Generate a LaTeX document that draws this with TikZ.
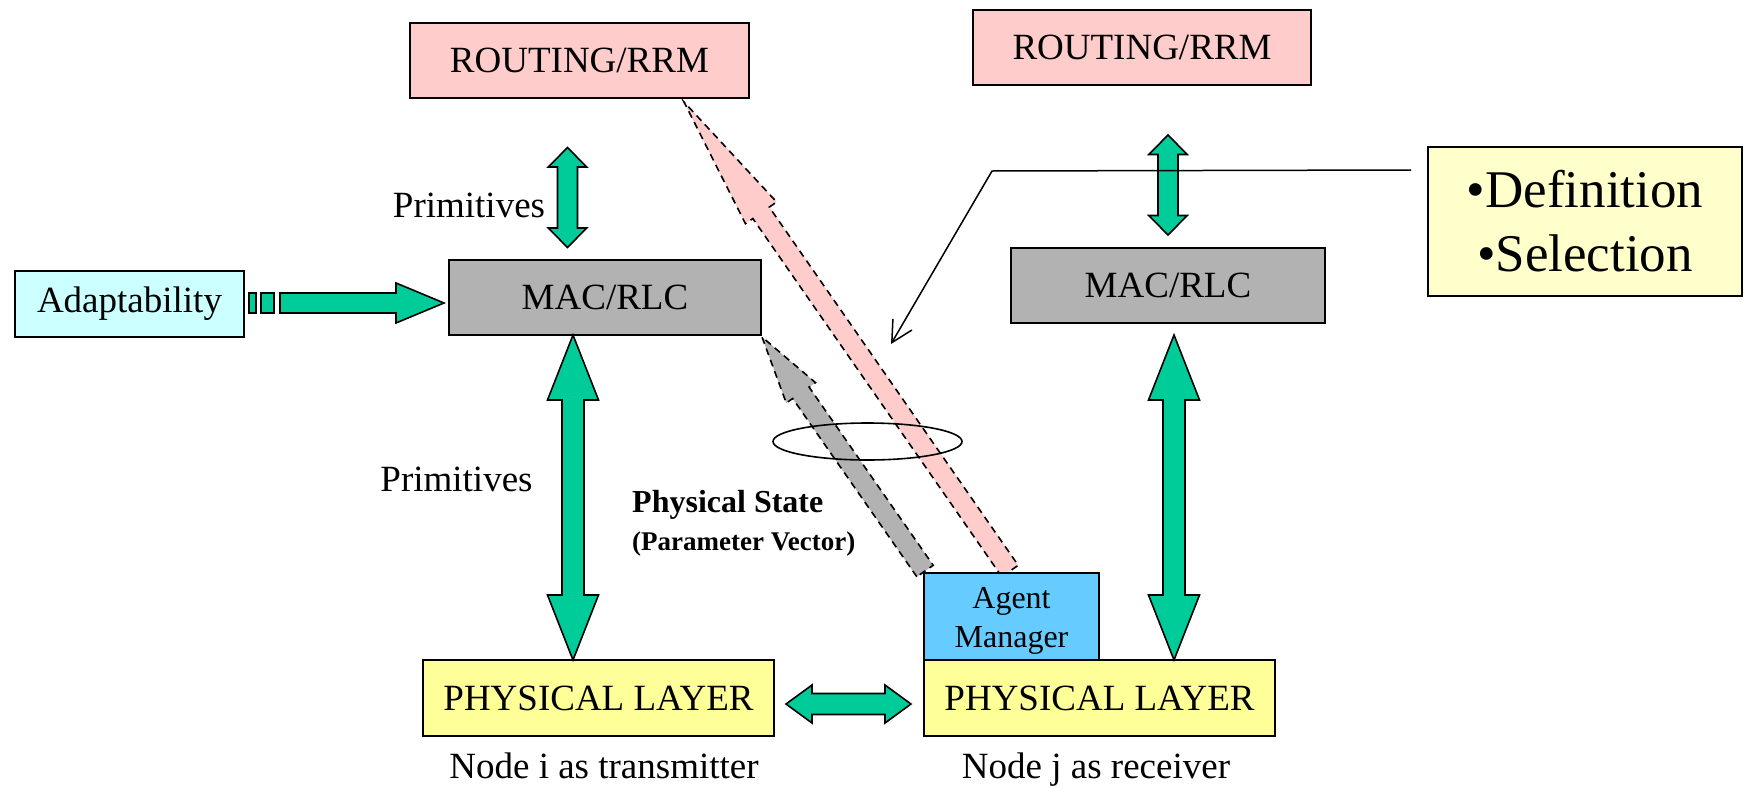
\documentclass[tikz,border=0pt]{standalone}
\usepackage{fontspec}
\setmainfont{Liberation Serif}
\usetikzlibrary{calc,arrows.meta}

\definecolor{grn}{RGB}{0,204,153}
\definecolor{pinkbox}{RGB}{255,204,204}
\definecolor{greybox}{RGB}{178,178,178}
\definecolor{cyanbox}{RGB}{204,255,255}
\definecolor{yellowbox}{RGB}{255,255,153}
\definecolor{agentblue}{RGB}{102,204,255}
\definecolor{notebox}{RGB}{255,255,204}

% block arrow: style, tail, tip, half shaft width, half head width, head length
\newcommand\blockarrow[6]{%
  \coordinate (ba-s) at ($(#3)!#6!(#2)$);
  \draw[#1] ($(#2)!#4!90:(#3)$) -- ($(ba-s)!#4!90:(#3)$) -- ($(ba-s)!#5!90:(#3)$) -- (#3)
    -- ($(ba-s)!#5!-90:(#3)$) -- ($(ba-s)!#4!-90:(#3)$) -- ($(#2)!#4!-90:(#3)$) -- cycle;
}
% double-headed block arrow: style, end A, end B, half shaft, half head, head length
\newcommand\twinarrow[6]{%
  \coordinate (ta-a) at ($(#2)!#6!(#3)$);
  \coordinate (ta-b) at ($(#3)!#6!(#2)$);
  \draw[#1] (#2) -- ($(ta-a)!#5!90:(#3)$) -- ($(ta-a)!#4!90:(#3)$) -- ($(ta-b)!#4!90:(#3)$)
    -- ($(ta-b)!#5!90:(#3)$) -- (#3) -- ($(ta-b)!#5!-90:(#3)$) -- ($(ta-b)!#4!-90:(#3)$)
    -- ($(ta-a)!#4!-90:(#3)$) -- ($(ta-a)!#5!-90:(#3)$) -- cycle;
}

\begin{document}
\begin{tikzpicture}[x=1pt,y=-1pt,
  box/.style={draw=black, line width=2pt, inner sep=0pt, font={\fontsize{37pt}{44pt}\selectfont}},
  grnarrow/.style={fill=grn, draw=black, line width=1.6pt, line join=miter},
  dasharrow/.style={draw=black, line width=1.6pt, dash pattern=on 7pt off 5pt, line join=miter},
  lbl/.style={font={\fontsize{37pt}{44pt}\selectfont}, inner sep=0pt},
]
\fill[white] (0,0) rectangle (1744,787);
\useasboundingbox (0,0) rectangle (1744,787);

% arrow end points
\coordinate (pa1) at (567.5,147.5); \coordinate (pa2) at (567.5,247.5);
\coordinate (pb1) at (1168,135);    \coordinate (pb2) at (1168,235);
\coordinate (va1) at (573,335);     \coordinate (va2) at (573,660);
\coordinate (vb1) at (1174,335);    \coordinate (vb2) at (1174,660);
\coordinate (ha1) at (786,704);     \coordinate (ha2) at (911,704);
\coordinate (ad1) at (280,303);     \coordinate (ad2) at (444,303);
\coordinate (gt) at (925,571);      \coordinate (gh) at (762,337);
\coordinate (pt) at (1010,571);     \coordinate (ph) at (684,102);

% state and routing feedback arrows
\blockarrow{dasharrow, fill=pinkbox}{pt}{ph}{10pt}{19pt}{135pt}
\blockarrow{dasharrow, fill=greybox}{gt}{gh}{10pt}{17.8pt}{68pt}

% layer boxes
\node[box, fill=pinkbox, minimum width=339pt, minimum height=75pt] (RL) at (579.5,60.5) {ROUTING/RRM};
\node[box, fill=pinkbox, minimum width=338pt, minimum height=75pt] (RR) at (1142,47.5) {ROUTING/RRM};
\node[box, fill=greybox, minimum width=312pt, minimum height=75pt] (ML) at (605,297.5) {MAC/RLC};
\node[box, fill=greybox, minimum width=314pt, minimum height=75pt] (MR) at (1168,285.5) {MAC/RLC};
\node[box, fill=cyanbox, minimum width=229pt, minimum height=66pt] (AD) at (129.5,304) {Adaptability};
\node[box, fill=yellowbox, minimum width=351pt, minimum height=76pt] (PL) at (598.5,698) {PHYSICAL LAYER};
\node[box, fill=yellowbox, minimum width=351pt, minimum height=76pt] (PR) at (1099.5,698) {PHYSICAL LAYER};
\node[box, fill=agentblue, minimum width=175pt, minimum height=87pt] (AG) at (1011.5,616.5) {};
\node[align=center, inner sep=0pt, font={\fontsize{32pt}{39pt}\selectfont}] (AGtext)
      at ($(AG.center)+(0,4)$) {Agent\\Manager};
\node[box, fill=notebox, minimum width=314pt, minimum height=149pt, align=center,
      font={\fontsize{53pt}{64pt}\selectfont}] (DEF) at (1585,221.5) {•Definition\\•Selection};

% primitives between layers
\twinarrow{grnarrow}{pa1}{pa2}{10pt}{19.2pt}{19.5pt}
\twinarrow{grnarrow}{pb1}{pb2}{10pt}{19.2pt}{19.5pt}
\twinarrow{grnarrow}{va1}{va2}{11pt}{25.5pt}{65pt}
\twinarrow{grnarrow}{vb1}{vb2}{11pt}{25.5pt}{65pt}
\twinarrow{grnarrow}{ha1}{ha2}{10.5pt}{19pt}{26pt}

% adaptability input
\draw[grnarrow] (249,293) rectangle (256,313);
\draw[grnarrow] (261,293) rectangle (274,313);
\blockarrow{grnarrow}{ad1}{ad2}{10pt}{20pt}{48pt}

% callout from the definition box
\coordinate (cA) at ($(DEF.north west)+(-16,24)$);
\coordinate (cB) at (992,171);
\coordinate (cC) at (891,344);
\draw[line width=1.5pt, -{Straight Barb[length=21pt,width=22pt]}] (cA) -- (cB) -- (cC);

% ring around the two feedback arrows
\draw[line width=1.6pt] (867.5,441.5) ellipse [x radius=94.5pt, y radius=18.5pt];

% labels
\node[lbl, anchor=base] (prim1) at (469,217) {Primitives};
\node[lbl, anchor=base] (prim2) at (456.5,491) {Primitives};
\node[anchor=base west, inner sep=0pt, font={\bfseries\fontsize{32pt}{38pt}\selectfont}] (ps) at (632,512) {Physical State};
\node[anchor=base west, inner sep=0pt, font={\bfseries\fontsize{27pt}{32pt}\selectfont}] (pv) at (632,550) {(Parameter Vector)};
\node[lbl, anchor=base] (ni) at (604,778) {Node i as transmitter};
\node[lbl, anchor=base] (nj) at (1096,778) {Node j as receiver};
\end{tikzpicture}
\end{document}
